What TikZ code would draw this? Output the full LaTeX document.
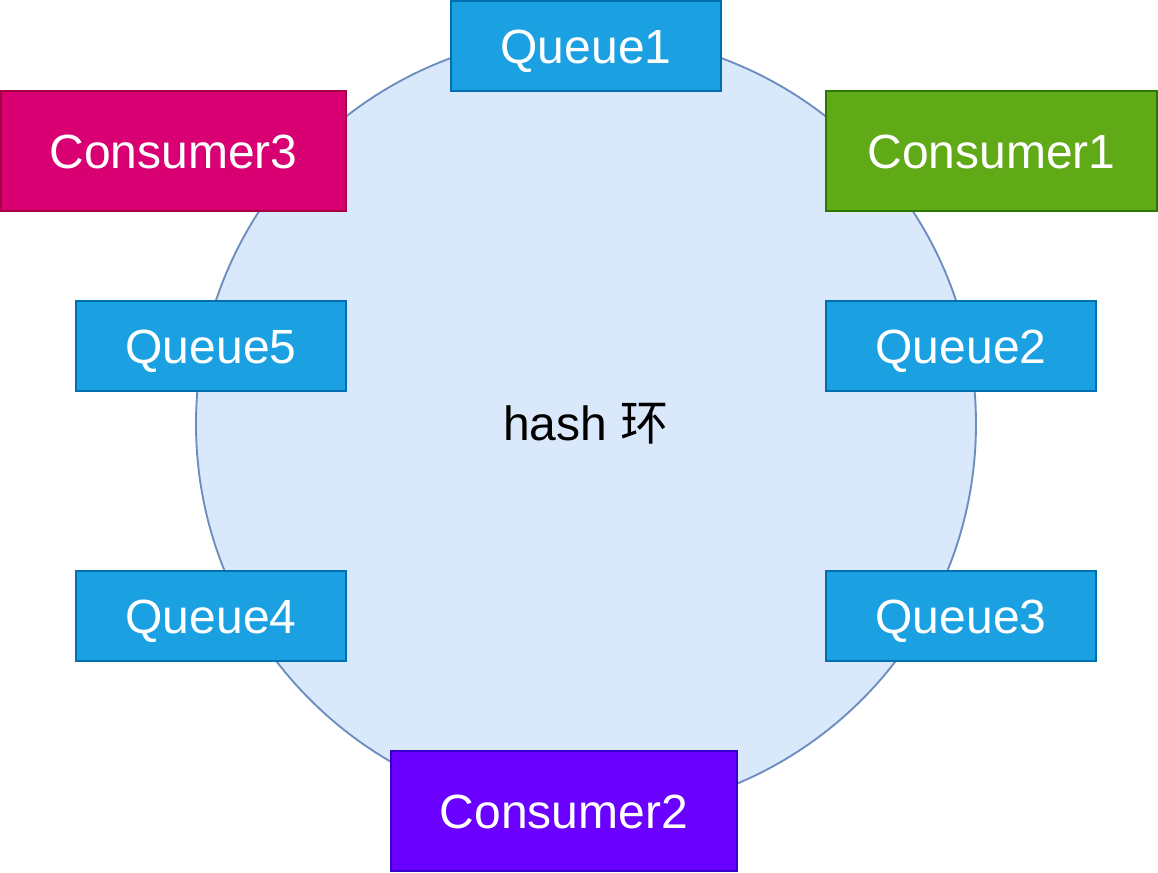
\documentclass[tikz,border=0pt]{standalone}
\usepackage{fontspec}
\setmainfont{Liberation Sans}
\newfontfamily\cjk{Noto Sans CJK SC}
\definecolor{qfill}{HTML}{1BA1E2}
\definecolor{qline}{HTML}{006EAF}
\definecolor{c1fill}{HTML}{60A917}
\definecolor{c1line}{HTML}{2D7600}
\definecolor{c2fill}{HTML}{6A00FF}
\definecolor{c2line}{HTML}{3700CC}
\definecolor{c3fill}{HTML}{D80073}
\definecolor{c3line}{HTML}{A50040}
\definecolor{ringfill}{HTML}{DAE8FC}
\definecolor{ringline}{HTML}{6C8EBF}
\begin{document}
\begin{tikzpicture}[x=0.75pt,y=-0.75pt,
  boxbase/.style={rectangle,draw,line width=1.4pt,text=white,inner sep=0pt,
    text height=26pt,text depth=0pt,
    font=\fontsize{36}{43}\selectfont},
  queuebox/.style={boxbase,fill=qfill,draw=qline,minimum width=202.5pt,minimum height=67.5pt},
  consbox/.style={boxbase,minimum height=90pt},
  ring/.style={circle,fill=ringfill,draw=ringline,line width=1.4pt,minimum size=585pt,inner sep=0pt,
    font=\fontsize{36}{43}\selectfont}]
\useasboundingbox (0,0) rectangle (1158,873);
\node[ring] (ring) at (586,424) {hash {\cjk 环}};
\node[queuebox] (q1) at (586,46) {Queue1};
\node[queuebox] (q2) at (961,346) {Queue2};
\node[queuebox] (q3) at (961,616) {Queue3};
\node[queuebox] (q4) at (211,616) {Queue4};
\node[queuebox] (q5) at (211,346) {Queue5};
\node[consbox,fill=c1fill,draw=c1line,minimum width=248.25pt] (c1) at (991.5,151) {Consumer1};
\node[consbox,fill=c2fill,draw=c2line,minimum width=259.5pt] (c2) at (564,811) {Consumer2};
\node[consbox,fill=c3fill,draw=c3line,minimum width=258.75pt] (c3) at (173.5,151) {Consumer3};
\end{tikzpicture}
\end{document}
